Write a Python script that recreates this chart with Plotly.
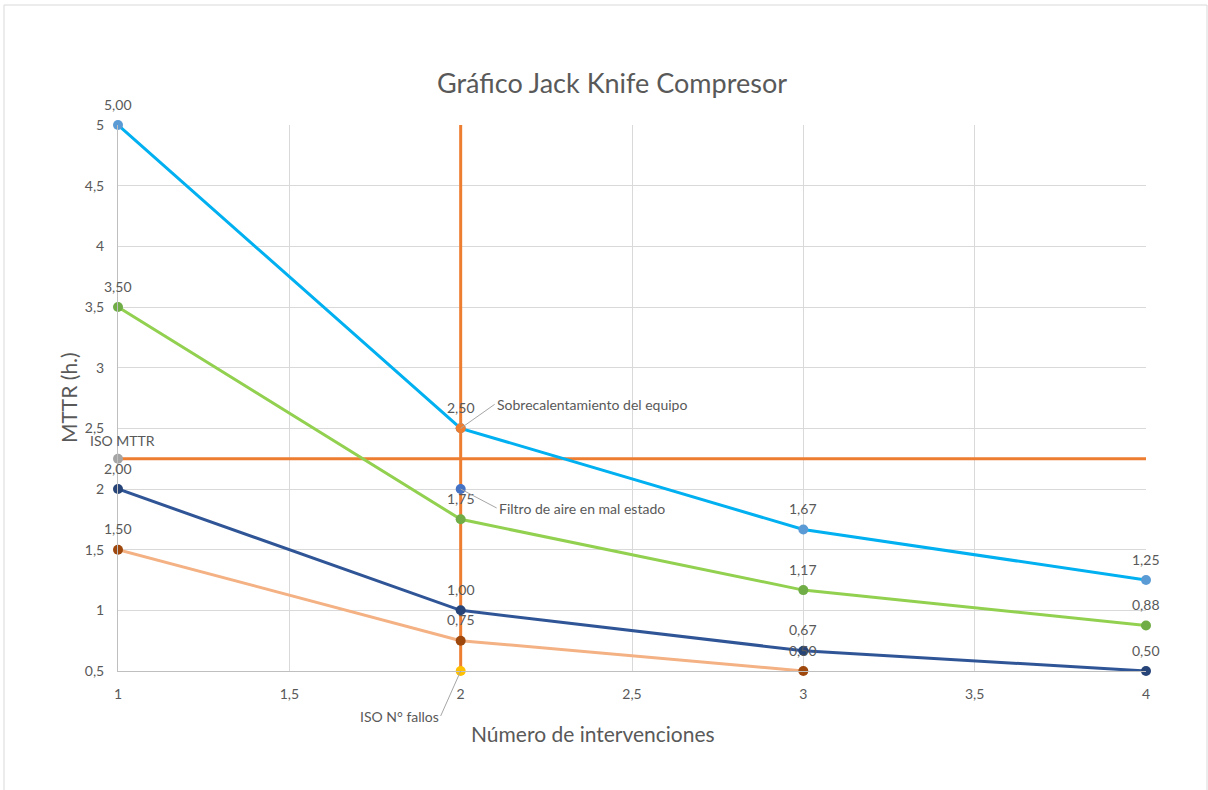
import plotly.graph_objects as go

# Data
interventions = [1, 2, 3, 4]
mttr_a = [5.0, 2.5, 1.6667, 1.25]          # light blue series
mttr_b = [3.5, 1.75, 1.1667, 0.875]        # green series
mttr_c = [2.0, 1.0, 0.6667, 0.5]           # dark blue series
mttr_d = [1.5, 0.75, 0.5]                  # light orange series
interventions_d = [1, 2, 3]

iso_mttr = 2.25
iso_fallos = 2
y_min, y_max = 0.5, 5.0
x_min, x_max = 1, 4

point_sobre = (2, 2.5)
point_filtro = (2, 2.0)

TXT = "#595959"
FONT = "Lato, 'Open Sans', sans-serif"
SMALL = 14


def fmt(v):
    return f"{v:.2f}".replace(".", ",")


fig = go.Figure()

# ISO reference lines
fig.add_trace(go.Scatter(x=[x_min, x_max], y=[iso_mttr, iso_mttr], mode="lines",
                         line=dict(color="#ED7D31", width=3), hoverinfo="skip"))
fig.add_trace(go.Scatter(x=[iso_fallos, iso_fallos], y=[y_min, y_max], mode="lines",
                         line=dict(color="#ED7D31", width=3), hoverinfo="skip"))

series = [
    (interventions, mttr_a, "#00B0F0", "#5B9BD5"),
    (interventions, mttr_b, "#92D050", "#70AD47"),
    (interventions, mttr_c, "#2F5597", "#264478"),
    (interventions_d, mttr_d, "#F4B183", "#9E480E"),
]
for xs, ys, lc, mc in series:
    fig.add_trace(go.Scatter(x=xs, y=ys, mode="lines+markers",
                             line=dict(color=lc, width=3),
                             marker=dict(color=mc, size=10),
                             cliponaxis=False))

# Single points
fig.add_trace(go.Scatter(x=[x_min], y=[iso_mttr], mode="markers",
                         marker=dict(color="#A5A5A5", size=10), cliponaxis=False))
fig.add_trace(go.Scatter(x=[iso_fallos], y=[y_min], mode="markers",
                         marker=dict(color="#FFC000", size=10), cliponaxis=False))
fig.add_trace(go.Scatter(x=[point_sobre[0]], y=[point_sobre[1]], mode="markers",
                         marker=dict(color="#ED7D31", size=10), cliponaxis=False))
fig.add_trace(go.Scatter(x=[point_filtro[0]], y=[point_filtro[1]], mode="markers",
                         marker=dict(color="#4472C4", size=10), cliponaxis=False))

annotations = []
# value labels above each point
for xs, ys, _, _ in series:
    for xv, yv in zip(xs, ys):
        annotations.append(dict(x=xv, y=yv, text=fmt(yv), showarrow=False,
                                yshift=21, font=dict(size=SMALL, color=TXT, family=FONT)))

annotations.append(dict(x=x_min, y=iso_mttr, text="ISO MTTR", showarrow=False,
                        yshift=18, xshift=4, font=dict(size=SMALL, color=TXT, family=FONT)))

leader = dict(showarrow=True, arrowhead=0, arrowwidth=1, arrowcolor="#A6A6A6",
              font=dict(size=SMALL, color=TXT, family=FONT))
annotations.append(dict(x=point_sobre[0], y=point_sobre[1], text="Sobrecalentamiento del equipo",
                        ax=34, ay=-24, xanchor="left", **leader))
annotations.append(dict(x=point_filtro[0], y=point_filtro[1], text="Filtro de aire en mal estado",
                        ax=36, ay=19, xanchor="left", **leader))
annotations.append(dict(x=iso_fallos, y=y_min, text="ISO N° fallos",
                        ax=-20, ay=45, xanchor="right", **leader))

# axis titles
annotations.append(dict(xref="paper", yref="paper", x=0.462, y=-0.1136,
                        xanchor="center", yanchor="middle",
                        text="Número de intervenciones", showarrow=False,
                        font=dict(size=21, color=TXT, family=FONT)))
annotations.append(dict(xref="paper", yref="paper", x=-0.0486, y=0.5, textangle=-90,
                        xanchor="center", yanchor="middle",
                        text="MTTR (h.)", showarrow=False,
                        font=dict(size=21, color=TXT, family=FONT)))

fig.update_layout(
    width=1208, height=790,
    margin=dict(l=118, r=62, t=125, b=119),
    paper_bgcolor="white", plot_bgcolor="white",
    showlegend=False,
    separators=",.",
    title=dict(text="Gráfico Jack Knife Compresor", x=612 / 1208, xanchor="center",
               y=1 - 84 / 790, yanchor="middle", yref="container",
               font=dict(size=27, color=TXT, family=FONT)),
    xaxis=dict(range=[x_min, x_max], dtick=0.5, showgrid=True, gridcolor="#D9D9D9",
               gridwidth=1, zeroline=False, showline=True, linecolor="#BFBFBF",
               ticklabelstandoff=10,
               tickfont=dict(size=SMALL, color=TXT, family=FONT)),
    yaxis=dict(range=[y_min, y_max], dtick=0.5, showgrid=True, gridcolor="#D9D9D9",
               gridwidth=1, zeroline=False, showline=True, linecolor="#BFBFBF",
               ticklabelstandoff=10,
               tickfont=dict(size=SMALL, color=TXT, family=FONT)),
    annotations=annotations,
    shapes=[dict(type="rect", xref="paper", yref="paper",
                 x0=(4 - 118) / 1028, x1=(1207 - 118) / 1028,
                 y0=-0.5, y1=(671 - 5) / 546,
                 line=dict(color="#D9D9D9", width=1), layer="below")],
)

fig.write_html("out.html")
